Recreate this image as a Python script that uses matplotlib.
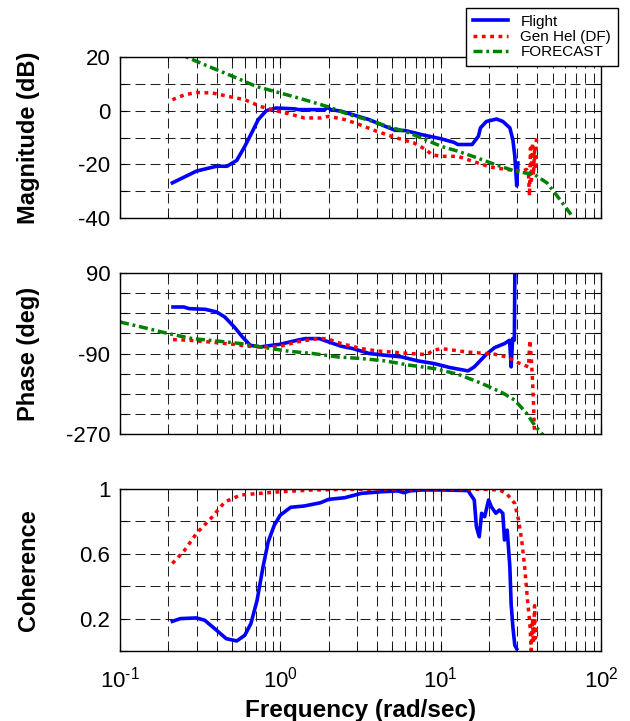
import numpy as np
import matplotlib
matplotlib.use("Agg")
import matplotlib.pyplot as plt
from matplotlib.ticker import FixedLocator, LogLocator, NullFormatter, FixedFormatter

plt.rcParams['font.family'] = ['Liberation Sans', 'DejaVu Sans']
plt.rcParams['mathtext.fontset'] = 'custom'
plt.rcParams['mathtext.rm'] = 'Liberation Sans'
plt.rcParams['mathtext.it'] = 'Liberation Sans'
plt.rcParams['axes.unicode_minus'] = False

# --- magnitude (dB) ---
flight_mag_f = [0.212, 0.30, 0.40, 0.465, 0.535, 0.60, 0.67, 0.728, 0.817, 0.94, 1.22, 1.30,
                1.89, 1.98, 2.06, 2.4, 2.83, 3.57, 4.5, 5.2, 6.0, 7.6, 10.1, 12.1, 12.8, 15.7,
                17.2, 17.7, 19.3, 22.3, 24.4, 27.0, 28.2, 29.0, 29.8, 30.3]
flight_mag = [-26.9, -22.5, -20.7, -20.7, -18.5, -13.3, -7.7, -3.3, 0.0, 1.0, 0.7, 0.4,
              0.4, 1.2, 0.4, -0.2, -1.5, -3.3, -5.8, -7.3, -7.4, -8.9, -10.5, -11.8, -12.6, -12.6,
              -9.5, -6.4, -4.0, -3.1, -4.0, -6.4, -10.8, -17.0, -28.0, -19.5]

gen_mag_f = [0.212, 0.252, 0.30, 0.378, 0.476, 0.60, 0.75, 0.94, 1.19, 1.41, 1.78, 2.0, 2.52,
             3.0, 4.0, 5.35, 6.8, 8.1, 8.8, 10.1, 12.8, 17.1, 20.4, 25.7, 32.4, 34.3, 35.3,
             35.8, 36.3, 36.8, 37.4, 37.9, 38.5, 39.0, 39.6]
gen_mag = [4.1, 5.9, 6.8, 6.6, 5.3, 4.1, 1.6, 0.0, -1.5, -2.7, -2.7, -2.1, -3.3,
           -4.8, -7.7, -10.2, -12.0, -14.5, -16.4, -17.0, -17.0, -19.5, -21.0, -21.9, -22.5, -21.9, -24.0,
           -31.8, -14.0, -26.0, -12.0, -24.0, -15.0, -22.0, -10.0]

fc_mag_f = [0.10, 0.18, 0.26, 0.357, 0.505, 0.71, 1.0, 1.41, 2.0, 2.7, 3.6, 4.8, 6.0, 7.6,
            10.1, 12.8, 16.2, 21.7, 29.0, 38.5, 46.0, 51.5, 65.0]
fc_mag = [30.0, 24.0, 20.0, 16.5, 12.8, 9.0, 6.6, 4.1, 1.4, -1.5, -3.6, -6.1, -7.7, -10.2,
          -13.3, -15.1, -17.2, -20.0, -22.5, -23.8, -26.9, -30.6, -38.7]

# --- phase (deg) ---
flight_ph_f = [0.214, 0.25, 0.27, 0.34, 0.40, 0.45, 0.52, 0.58, 0.65, 0.75, 0.89, 1.0, 1.27,
               1.43, 1.75, 2.0, 2.4, 2.83, 3.6, 4.5, 5.7, 7.2, 9.1, 11.4, 14.8, 16.2, 19.3,
               21.7, 25.0, 26.9, 27.5, 28.1, 28.8, 29.1]
flight_ph = [14.1, 14.1, 10.4, 8.9, 3.0, -8.2, -32.0, -52.9, -71.5, -75.2, -71.5, -69.2, -60.3,
             -56.6, -56.6, -64.0, -73.7, -78.9, -90.0, -93.8, -97.5, -106.4, -112.4, -121.3, -128.8, -119.8, -91.5,
             -76.7, -67.7, -60.3, -119.8, -56.6, -60.0, 150.0]

gen_ph_f = [0.214, 0.27, 0.357, 0.505, 0.63, 0.80, 1.0, 1.27, 1.7, 1.95, 2.4, 3.2, 4.0, 5.7,
            8.1, 9.1, 10.1, 14.4, 21.7, 25.7, 30.6, 35.3, 36.0, 36.7, 37.4, 38.0, 38.5]
gen_ph = [-58.8, -60.3, -64.0, -69.2, -73.7, -75.2, -73.7, -64.0, -56.6, -56.6, -67.7, -78.9, -84.1, -88.6,
          -92.3, -82.6, -78.9, -86.3, -91.5, -97.5, -110.9, -119.8, -60.3, -97.5, -149.6, -209.0, -275.0]

fc_ph_f = [0.10, 0.141, 0.20, 0.283, 0.40, 0.566, 0.80, 1.13, 1.6, 2.26, 3.2, 4.5, 6.4, 9.1,
           12.8, 18.1, 24.3, 29.0, 34.4, 38.5, 43.4]
fc_ph = [-19.4, -32.0, -45.4, -56.6, -61.8, -67.7, -76.7, -84.9, -90.0, -97.5, -101.2, -106.4, -116.1, -123.5,
         -136.2, -157.0, -177.9, -194.2, -224.0, -250.0, -272.0]

# --- coherence ---
flight_coh_f = [0.212, 0.238, 0.30, 0.337, 0.40, 0.46, 0.535, 0.60, 0.655, 0.716, 0.78, 0.84, 0.917,
                1.0, 1.16, 1.41, 1.78, 2.0, 2.52, 3.2, 4.3, 5.4, 5.9, 6.4, 7.7, 10.1, 14.8, 16.2,
                16.7, 17.4, 18.0, 18.8, 19.9, 20.7, 22.1, 23.2, 24.4, 25.0, 26.0, 27.0, 27.5, 28.2,
                29.0, 29.8]
flight_coh = [0.183, 0.20, 0.204, 0.19, 0.128, 0.076, 0.062, 0.097, 0.169, 0.313, 0.52, 0.674, 0.777,
              0.839, 0.887, 0.895, 0.915, 0.936, 0.946, 0.973, 0.983, 0.988, 0.977, 0.988, 0.994, 0.994, 0.99, 0.932,
              0.767, 0.705, 0.85, 0.829, 0.932, 0.89, 0.85, 0.87, 0.85, 0.685, 0.746, 0.52, 0.293, 0.148,
              0.035, 0.014]

gen_coh_f = [0.212, 0.252, 0.30, 0.378, 0.45, 0.566, 0.75, 1.0, 1.6, 3.2, 10.1, 18.1, 23.2,
             25.7, 29.0, 30.6, 32.0, 33.4, 34.8, 36.0, 36.7, 37.0, 37.4, 37.9, 38.5, 39.0, 39.6]
gen_coh = [0.54, 0.62, 0.726, 0.83, 0.92, 0.963, 0.973, 0.983, 0.994, 0.998, 1.0, 0.998, 0.994,
           0.973, 0.91, 0.808, 0.685, 0.52, 0.313, 0.169, 0.004, 0.10, 0.20, 0.05, 0.28, 0.08, 0.15]

x_ticks = [0.1, 1, 10, 100]
x_labels = [r'$10^{\text{-}1}$', r'$10^{0}$', r'$10^{1}$', r'$10^{2}$']

fig = plt.figure(figsize=(6.3, 7.21), dpi=100)
left, width = 0.1905, 0.7635
ax1 = fig.add_axes([left, 0.6976, width, 0.2233])
ax2 = fig.add_axes([left, 0.398, width, 0.2233])
ax3 = fig.add_axes([left, 0.0971, width, 0.2247])

blue = dict(color='#0000ff', linestyle='-', linewidth=2.6)
red = dict(color='#ff0000', linestyle=(0, (1.1, 1.3)), linewidth=2.5, dash_capstyle='butt')
green = dict(color='#008000', linestyle=(0, (2.6, 1.1, 0.8, 1.1)), linewidth=2.5)

l1, = ax1.plot(flight_mag_f, flight_mag, label='Flight', **blue)
l2, = ax1.plot(gen_mag_f, gen_mag, label='Gen Hel (DF)', **red)
l3, = ax1.plot(fc_mag_f, fc_mag, label='FORECAST', **green)

ax2.plot(flight_ph_f, flight_ph, **blue)
ax2.plot(gen_ph_f, gen_ph, **red)
ax2.plot(fc_ph_f, fc_ph, **green)

ax3.plot(flight_coh_f, flight_coh, **blue)
ax3.plot(gen_coh_f, gen_coh, **red)

grid_style = dict(color='#202020', linestyle=(0, (9.6, 4.8)), linewidth=0.75)

def style(ax, ylim, yticks, ylabels):
    ax.set_xscale('log')
    ax.set_xlim(0.1, 100)
    ax.set_ylim(*ylim)
    ax.yaxis.set_major_locator(FixedLocator(yticks))
    ax.set_yticklabels(ylabels)
    ax.xaxis.set_major_locator(FixedLocator(x_ticks))
    ax.xaxis.set_major_formatter(FixedFormatter(x_labels))
    ax.xaxis.set_minor_locator(LogLocator(base=10, subs=np.arange(2, 10), numticks=10))
    ax.xaxis.set_minor_formatter(NullFormatter())
    ax.grid(True, which='both', axis='x', **grid_style)
    ax.grid(True, which='major', axis='y', **grid_style)
    ax.tick_params(which='both', direction='in', top=True, right=True, labelsize=16)
    ax.tick_params(which='major', length=5)
    ax.tick_params(which='minor', length=3)
    ax.tick_params(axis='y', pad=7)
    ax.tick_params(axis='x', pad=11)
    for s in ax.spines.values():
        s.set_linewidth(1.0)

style(ax1, (-40, 20), [-40, -30, -20, -10, 0, 10, 20], ['-40', '', '-20', '', '0', '', '20'])
style(ax2, (-270, 90), list(range(-270, 91, 45)),
      ['-270', '', '', '', '-90', '', '', '', '90'])
style(ax3, (0, 1), [0, 0.2, 0.4, 0.6, 0.8, 1.0], ['', '0.2', '', '0.6', '', '1'])

ax1.tick_params(labelbottom=False)
ax2.tick_params(labelbottom=False)

ax1.set_ylabel('Magnitude (dB)', fontsize=17, fontweight='bold')
ax2.set_ylabel('Phase (deg)', fontsize=17, fontweight='bold')
ax3.set_ylabel('Coherence', fontsize=17, fontweight='bold')
for ax in (ax1, ax2, ax3):
    ax.yaxis.set_label_coords(-0.166, 0.5)
ax3.set_xlabel('Frequency (rad/sec)', fontsize=17.5, fontweight='bold', labelpad=5)

leg = fig.legend(handles=[l1, l2, l3], loc='upper right', bbox_to_anchor=(0.981, 0.989),
                 fontsize=11, fancybox=False, edgecolor='black', framealpha=1,
                 handlelength=2.3, borderpad=0.45, labelspacing=0.08, handletextpad=0.8,
                 borderaxespad=0)
leg.get_frame().set_linewidth(1.0)

fig.savefig('out.png', dpi=100)
